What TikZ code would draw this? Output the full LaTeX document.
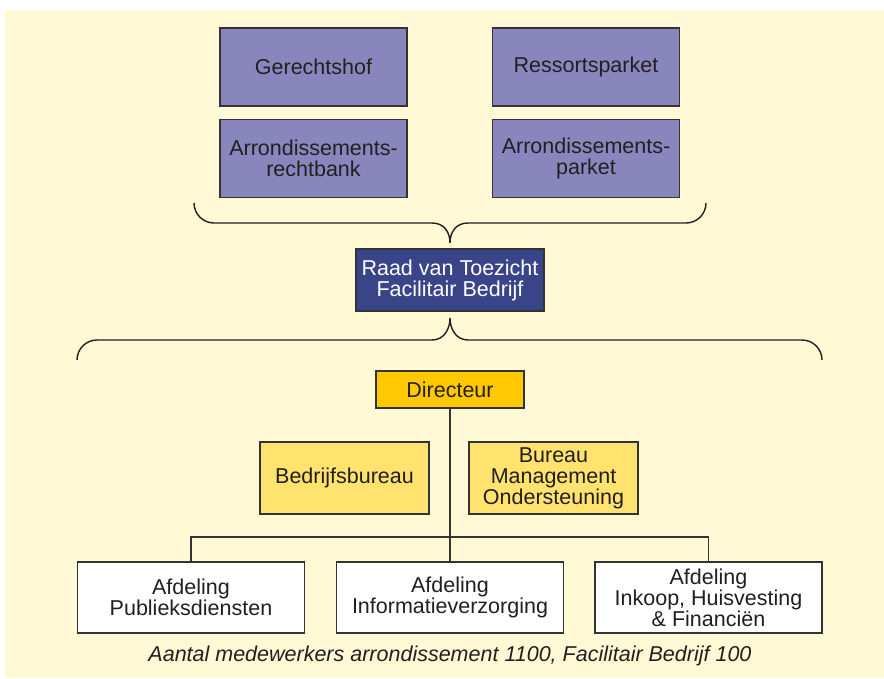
\documentclass[tikz,border=0pt]{standalone}
\usepackage{fontspec}
\setmainfont{Liberation Sans}
\usetikzlibrary{calc,positioning}
\definecolor{cream}{HTML}{FFF9D6}
\definecolor{lila}{HTML}{8886BC}
\definecolor{navy}{HTML}{3A4589}
\definecolor{gold}{HTML}{FFC800}
\definecolor{pale}{HTML}{FFE36E}
\definecolor{edge}{HTML}{333333}
\definecolor{ink}{HTML}{231F20}
\begin{document}
\begin{tikzpicture}[x=1pt,y=-1pt,
  box/.style={draw=edge,line width=1.2pt,align=center,inner sep=0pt,text=ink,font=\fontsize{21.5}{21}\selectfont},
  court/.style={box,fill=lila,minimum width=187pt,minimum height=78pt},
  staff/.style={box,fill=pale,minimum width=169pt,minimum height=72pt},
  dept/.style={box,fill=white,minimum width=227pt,minimum height=71pt},
  brace/.style={draw=ink,line width=1.4pt},
  link/.style={draw=edge,line width=1.1pt}]
  \useasboundingbox (0,0) rectangle (884,678);
  \fill[cream] (5,10) rectangle (884,678);

  \node[court] (ger) at (313.5,67) {Gerechtshof};
  \node[court] (arb) at (313.5,158.5) {Arrondissements-\\rechtbank};
  \node[court] (res) at (586,67) {Ressortsparket};
  \node[court] (arp) at (586,158.5) {Arrondissements-\\parket};

  \draw[brace] (194,203) arc[start angle=180,end angle=90,radius=20] -- (432,223)
    .. controls (444,223) and (450,232) .. (450,243)
    .. controls (450,232) and (456,223) .. (468,223) -- (686,223)
    arc[start angle=90,end angle=0,radius=20];

  \node[box,fill=navy,text=white,minimum width=188pt,minimum height=62pt] (raad) at (450,280) {Raad van Toezicht\\Facilitair Bedrijf};

  \draw[brace] (77,360) arc[start angle=180,end angle=270,radius=20] -- (432,340)
    .. controls (444,340) and (450,329) .. (450,318)
    .. controls (450,329) and (456,340) .. (468,340) -- (802,340)
    arc[start angle=270,end angle=360,radius=20];

  \node[box,fill=gold,minimum width=148pt,minimum height=37pt] (dir) at (450,389.5) {Directeur};
  \node[staff] (bb) at (344.5,478) {Bedrijfsbureau};
  \node[staff] (bmo) at (553.5,478) {Bureau\\Management\\Ondersteuning};

  \node[dept] (pub) at (191,597.5) {Afdeling\\Publieksdiensten};
  \node[dept] (inf) at (450,597.5) {Afdeling\\Informatieverzorging};
  \node[dept] (ink) at (708.5,597.5) {Afdeling\\Inkoop, Huisvesting\\\& Financiën};
  \coordinate (br) at (450,537);

  \draw[link] (dir.south) -- (inf.north);
  \draw[link] (pub.north) |- (br) -| (ink.north);

  \node[text=ink,font=\fontsize{21.5}{22}\selectfont\itshape] (cap) at (450,656) {Aantal medewerkers arrondissement 1100, Facilitair Bedrijf 100};
\end{tikzpicture}
\end{document}
